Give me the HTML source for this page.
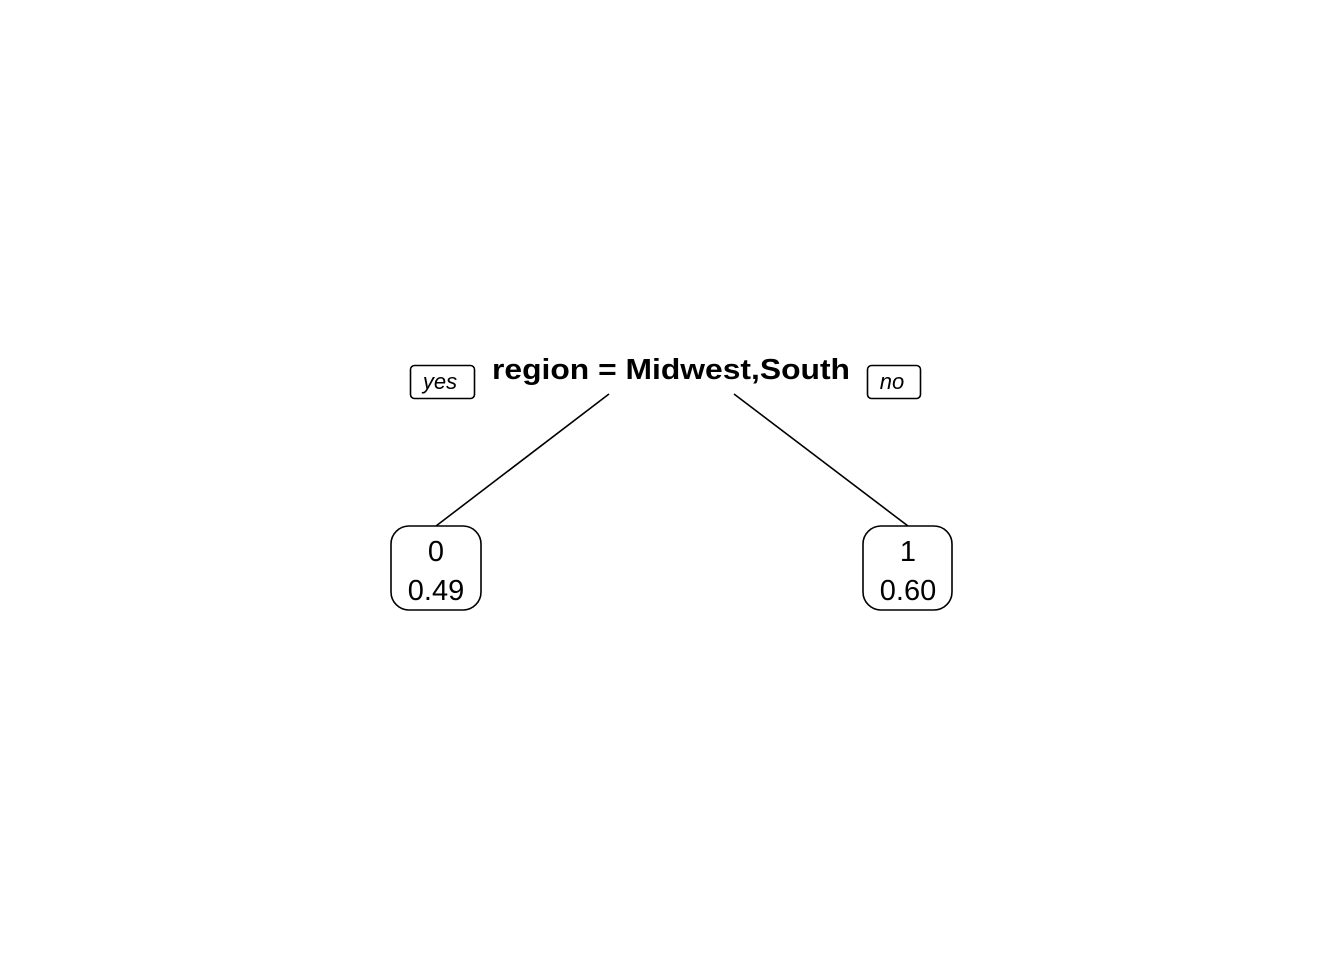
<!DOCTYPE html>
<html><head><meta charset="utf-8"><style>html,body{margin:0;padding:0;background:#fff;}</style></head>
<body>
<svg width="1344" height="960" xmlns="http://www.w3.org/2000/svg" font-family="Liberation Sans, sans-serif">
<rect width="1344" height="960" fill="#fff"/>
<g stroke="#000" stroke-width="1.6" fill="none">
<line x1="609" y1="394" x2="436" y2="526"/>
<line x1="734" y1="394" x2="908" y2="526"/>
<rect x="410.5" y="365.5" width="64" height="33" rx="4"/>
<rect x="867.5" y="365.5" width="53" height="33" rx="4"/>
<rect x="391" y="526" width="90" height="84" rx="18" fill="#fff"/>
<rect x="863" y="526" width="89" height="84" rx="18" fill="#fff"/>
</g>
<text x="671" y="379" text-anchor="middle" font-weight="bold" font-size="29" textLength="358" lengthAdjust="spacingAndGlyphs">region = Midwest,South</text>
<text x="440" y="389" text-anchor="middle" font-style="italic" font-size="22">yes</text>
<text x="892" y="389" text-anchor="middle" font-style="italic" font-size="22">no</text>
<text x="436" y="561" text-anchor="middle" font-size="29">0</text>
<text x="436" y="600" text-anchor="middle" font-size="29">0.49</text>
<text x="908" y="561" text-anchor="middle" font-size="29">1</text>
<text x="908" y="600" text-anchor="middle" font-size="29">0.60</text>
</svg>
</body></html>
